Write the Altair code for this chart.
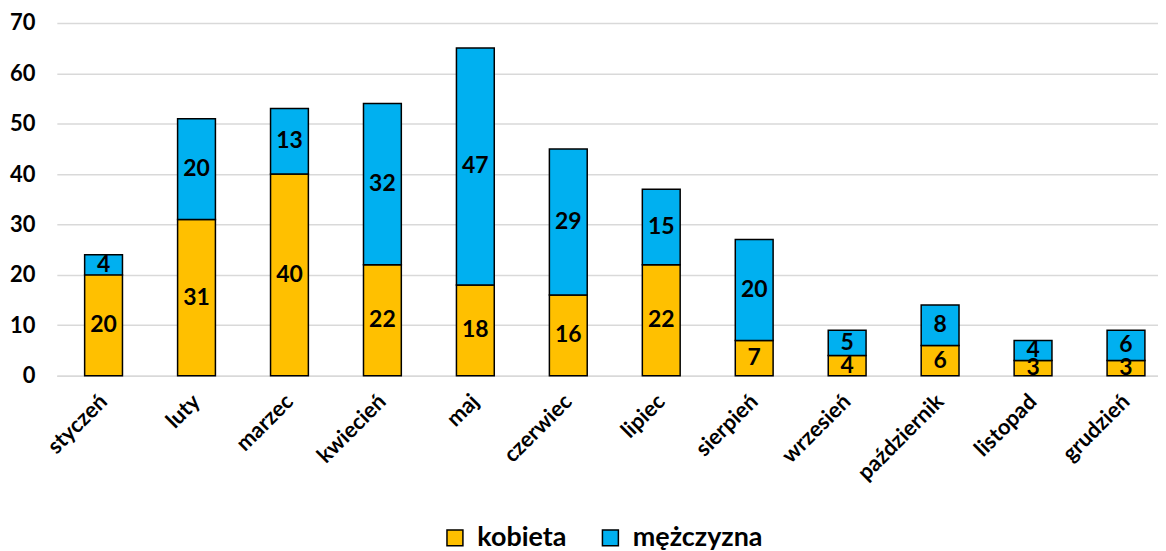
import altair as alt
import pandas as pd

months = ["styczeń", "luty", "marzec", "kwiecień", "maj", "czerwiec", "lipiec",
          "sierpień", "wrzesień", "październik", "listopad", "grudzień"]
kobieta = [20, 31, 40, 22, 18, 16, 22, 7, 4, 6, 3, 3]
mezczyzna = [4, 20, 13, 32, 47, 29, 15, 20, 5, 8, 4, 6]
series = ["kobieta", "mężczyzna"]
colors = ["#FFC000", "#00B0F0"]
y_ticks = [0, 10, 20, 30, 40, 50, 60, 70]

rows = []
for i, m in enumerate(months):
    rows.append({"month": m, "gender": series[0], "value": kobieta[i], "ord": 0})
    rows.append({"month": m, "gender": series[1], "value": mezczyzna[i], "ord": 1})
df = pd.DataFrame(rows)

FONT = "Lato"

xenc = alt.X("month:N", sort=months, title=None,
             scale=alt.Scale(paddingInner=0.593, paddingOuter=0.22, align=0.68),
             axis=alt.Axis(labelAngle=-45, labelAlign="right", labelBaseline="middle",
                           labelFont=FONT, labelFontWeight="bold", labelFontSize=22,
                           labelColor="black", labelPadding=22, ticks=False,
                           domain=True, domainColor="#D9D9D9", domainWidth=1.5))

base = alt.Chart(df)

bars = base.mark_bar(stroke="black", strokeWidth=1.5).encode(
    x=xenc,
    y=alt.Y("value:Q", stack="zero", title=None,
            scale=alt.Scale(domain=[0, 70], nice=False),
            axis=alt.Axis(values=y_ticks, domain=False, ticks=False,
                          grid=True, gridColor="#D9D9D9", gridWidth=1.5,
                          labelFont=FONT, labelFontWeight="bold", labelFontSize=22,
                          labelColor="black", labelPadding=22)),
    color=alt.Color("gender:N",
                    scale=alt.Scale(domain=series, range=colors),
                    legend=alt.Legend(title=None, orient="none", legendX=386, legendY=503,
                                      direction="horizontal", symbolType="square",
                                      symbolSize=256, symbolStrokeColor="black",
                                      symbolStrokeWidth=1.5, labelFont=FONT,
                                      labelFontWeight="bold", labelFontSize=27,
                                      labelColor="black", labelOffset=9,
                                      columnPadding=30)),
    order=alt.Order("ord:Q"),
)

labels = base.transform_stack(
    stack="value", groupby=["month"], as_=["v0", "v1"],
    sort=[alt.SortField("ord", order="ascending")]
).transform_calculate(
    mid="(datum.v0 + datum.v1) / 2"
).mark_text(font=FONT, fontWeight="bold", fontSize=23, color="black",
            baseline="middle", align="center").encode(
    x=alt.X("month:N", sort=months),
    y=alt.Y("mid:Q"),
    text=alt.Text("value:Q"),
)

chart = alt.layer(bars, labels).properties(
    width=1105, height=354,
    autosize="none",
    padding={"left": 49, "top": 14, "right": 0, "bottom": 175},
).configure_view(stroke=None)

chart.save("out.html", embed_options={"renderer": "svg", "actions": False})
